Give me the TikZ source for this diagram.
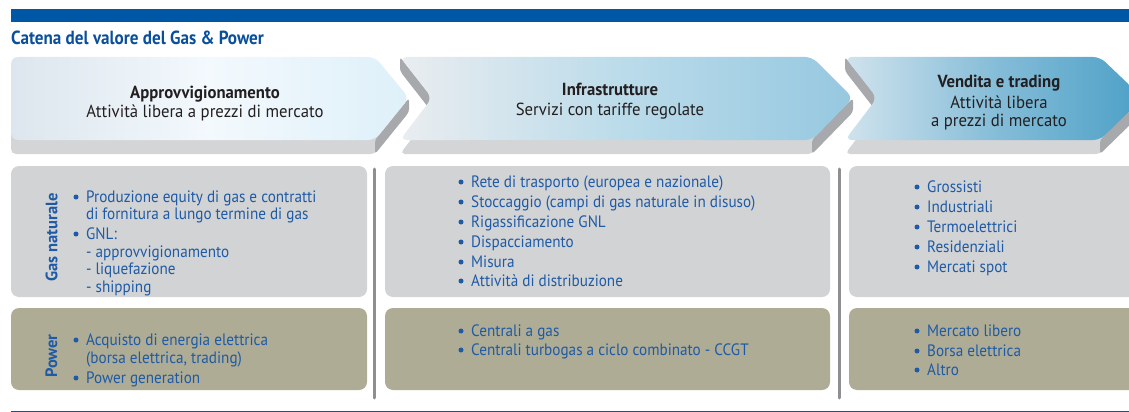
\documentclass[tikz,border=0pt]{standalone}
\usepackage{fontspec}
\setmainfont{PT Sans}
\newfontfamily\bodyf[FakeStretch=0.92]{PT Sans}
\newfontfamily\headf[FakeStretch=0.955]{PT Sans}
\newfontfamily\titlef[FakeStretch=0.9]{PT Sans}
\definecolor{barblue}{HTML}{0057A6}
\definecolor{titleblue}{HTML}{0A4F9B}
\definecolor{txtblue}{HTML}{1F5AA6}
\definecolor{boxgrey}{HTML}{D1D3D4}
\definecolor{boxkhaki}{HTML}{AEAC94}
\definecolor{sepgrey}{HTML}{8D8F91}
\definecolor{wallgrey}{HTML}{A7A9AC}
\definecolor{basegrey}{HTML}{D4D5D7}
\definecolor{headtxt}{HTML}{231F20}
\definecolor{lineblue}{HTML}{1B4F8A}
\definecolor{aoneL}{HTML}{DDE6EE}
\definecolor{aoneM}{HTML}{F3F9FD}
\definecolor{aoneR}{HTML}{DEF0F9}
\definecolor{atwoL}{HTML}{EAEDF0}
\definecolor{atwoM}{HTML}{BADBEA}
\definecolor{atwoR}{HTML}{96C8E0}
\definecolor{athrL}{HTML}{D0E3ED}
\definecolor{athrM}{HTML}{86BDD8}
\definecolor{athrR}{HTML}{4CA0C7}
\tikzset{
  body/.style={anchor=base west, inner sep=0pt, text=txtblue, font=\bodyf\fontsize{16.5}{19}\selectfont},
  bul/.style={fill=txtblue, circle, inner sep=0pt, minimum size=5pt},
  headb/.style={anchor=base, inner sep=0pt, text=headtxt, font=\headf\bfseries\fontsize{17.5}{21}\selectfont},
  headr/.style={anchor=base, inner sep=0pt, text=headtxt, font=\headf\fontsize{17.5}{21}\selectfont},
  side/.style={inner sep=0pt, text=txtblue, rotate=90, font=\bfseries\fontsize{16.5}{19}\selectfont},
  gasbox/.style={fill=boxgrey, rounded corners=8pt},
  powbox/.style={fill=boxkhaki, rounded corners=8pt},
  sep/.style={draw=sepgrey, line width=3pt, line cap=round},
  base/.style={fill=basegrey, rounded corners=5pt},
  wall/.style={fill=wallgrey, rounded corners=3pt},
}
\newcommand\itm[4]{\node[bul] (#4b) at (#1-10,#2-5) {}; \node[body] (#4) at (#1,#2) {#3};}
\begin{document}
\begin{tikzpicture}[x=1pt,y=-1pt]
\useasboundingbox (0,0) rectangle (1129,412);
\begin{scope}
\clip (0,0) rectangle (1129,412);
% top bar
\fill[barblue] (11,9) rectangle (1135,22);
% arrow 1
\path[base] (11,71) -- (375,71) -- (409,112) -- (375,154) -- (11,154) -- cycle;
\path[wall] (409,98) -- (375,140) -- (375,154) -- (409,112) -- cycle;
\path[rounded corners=7pt, left color=aoneL, right color=aoneR, middle color=aoneM]
  (11,57) -- (375,57) -- (409,98) -- (375,140) -- (11,140) -- cycle;
% arrow 2
\path[base] (400,71) -- (812,71) -- (853,112) -- (812,154) -- (400,154) -- (432,112) -- cycle;
\path[wall] (400,57) -- (432,98) -- (432,112) -- (400,71) -- cycle;
\path[wall] (853,98) -- (812,140) -- (812,154) -- (853,112) -- cycle;
\path[rounded corners=7pt, left color=atwoL, right color=atwoR, middle color=atwoM]
  (400,57) -- (812,57) -- (853,98) -- (812,140) -- (400,140) -- (432,98) -- cycle;
% arrow 3
\path[base] (845,71) -- (1100,71) -- (1143,112) -- (1100,154) -- (845,154) -- (877,112) -- cycle;
\path[wall] (845,57) -- (877,98) -- (877,112) -- (845,71) -- cycle;
\path[wall] (1143,98) -- (1100,140) -- (1100,154) -- (1143,112) -- cycle;
\path[rounded corners=7pt, left color=athrL, right color=athrR, middle color=athrM]
  (845,57) -- (1100,57) -- (1143,98) -- (1100,140) -- (845,140) -- (877,98) -- cycle;
% boxes
\path[gasbox] (11,166) rectangle (367,297);
\path[powbox] (11,308) rectangle (367,390);
\path[gasbox] (385,166) rectangle (830,297);
\path[powbox] (385,308) rectangle (830,390);
\path[gasbox] (849,166) rectangle (1145,297);
\path[powbox] (849,308) rectangle (1145,390);
\end{scope}
\node[anchor=base west, inner sep=0pt, text=titleblue, font=\titlef\bfseries\fontsize{19}{22}\selectfont] (title) at (11,45) {Catena del valore del Gas \& Power};
\coordinate (s1t) at (374,169); \coordinate (s1b) at (374,398);
\coordinate (s2t) at (839,169); \coordinate (s2b) at (839,398);
\draw[sep] (s1t) -- (s1b);
\draw[sep] (s2t) -- (s2b);
\coordinate (bl) at (11,411); \coordinate (br) at (1129,411);
\draw[draw=lineblue, line width=1pt] (bl) -- (br);
% headers
\node[headb] (h1) at (205,98) {Approvvigionamento};
\node[headr] (h1b) at (205,117) {Attività libera a prezzi di mercato};
\node[headb] (h2) at (610,95) {Infrastrutture};
\node[headr] (h2b) at (610,115) {Servizi con tariffe regolate};
\node[headb] (h3) at (999,88) {Vendita e trading};
\node[headr] (h3b) at (999,108) {Attività libera};
\node[headr] (h3c) at (999,126) {a prezzi di mercato};
% side labels
\node[side] (gasl) at (51.5,237.5) {Gas naturale};
\node[side] (powl) at (51.5,356) {Power};
% column 1
\itm{86}{202}{Produzione equity di gas e contratti}{a1}
\node[body] (a1x) at (86,219) {di fornitura a lungo termine di gas};
\itm{86}{239}{GNL:}{a2}
\node[body] (a2x) at (86,257) {- approvvigionamento};
\node[body] (a2y) at (86,274) {- liquefazione};
\node[body] (a2z) at (86,292) {- shipping};
\itm{86}{345}{Acquisto di energia elettrica}{p1}
\node[body] (p1x) at (86,363) {(borsa elettrica, trading)};
\itm{86}{383}{Power generation}{p2}
% column 2
\itm{471}{187}{Rete di trasporto (europea e nazionale)}{i1}
\itm{471}{207}{Stoccaggio (campi di gas naturale in disuso)}{i2}
\itm{471}{227}{Rigassificazione GNL}{i3}
\itm{471}{247}{Dispacciamento}{i4}
\itm{471}{267}{Misura}{i5}
\itm{471}{286}{Attività di distribuzione}{i6}
\itm{471}{336}{Centrali a gas}{j1}
\itm{471}{355}{Centrali turbogas a ciclo combinato - CCGT}{j2}
% column 3
\itm{927}{192}{Grossisti}{v1}
\itm{927}{212}{Industriali}{v2}
\itm{927}{232}{Termoelettrici}{v3}
\itm{927}{252}{Residenziali}{v4}
\itm{927}{272}{Mercati spot}{v5}
\itm{927}{336}{Mercato libero}{w1}
\itm{927}{356}{Borsa elettrica}{w2}
\itm{927}{375}{Altro}{w3}
\end{tikzpicture}
\end{document}
